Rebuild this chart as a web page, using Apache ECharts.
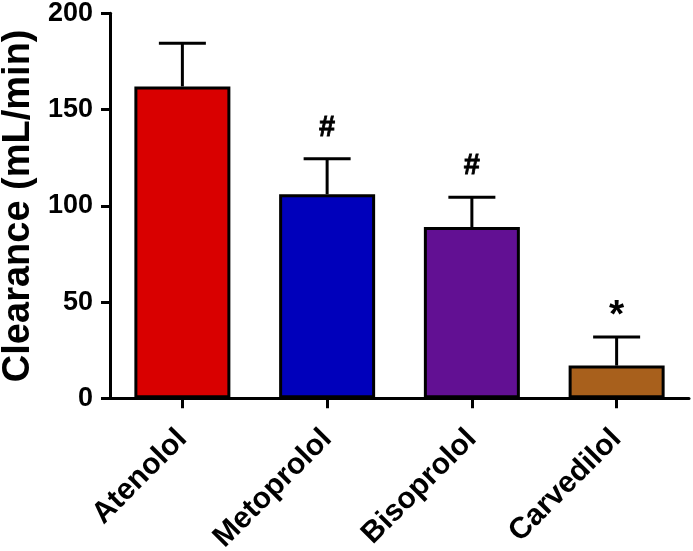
<!DOCTYPE html>
<html><head><meta charset="utf-8">
<script src="https://cdn.jsdelivr.net/npm/echarts@6/dist/echarts.min.js"></script>
<style>html,body{margin:0;padding:0;background:#fff}#c{width:693px;height:551px}</style>
</head><body><div id="c"></div>
<script>
const categories = ['Atenolol', 'Metoprolol', 'Bisoprolol', 'Carvedilol'];
const means = [162, 106, 89, 17];
const upperErrors = [184.5, 124.5, 104.5, 31.8];
const marks = ['', '#', '#', '*'];
const colors = ['#d90000', '#0000bb', '#621093', '#a8601c'];
const yTicks = [0, 50, 100, 150, 200];

const FONT = '"Liberation Sans", Arial, sans-serif';
const chart = echarts.init(document.getElementById('c'), null, {renderer: 'canvas'});
chart.setOption({
  animation: false,
  backgroundColor: '#fff',
  grid: {left: 110, right: 4, top: 13.3, bottom: 152.7, containLabel: false, outerBoundsMode: 'none'},
  xAxis: {
    type: 'category', data: categories,
    axisLine: {lineStyle: {color: '#000', width: 3}},
    axisTick: {show: true, length: 10, alignWithLabel: true, lineStyle: {color: '#000', width: 3}},
    axisLabel: {rotate: 45, color: '#000', fontWeight: 'bold', fontSize: 30, fontFamily: FONT, margin: 36, interval: 0}
  },
  yAxis: {
    type: 'value', min: yTicks[0], max: yTicks[yTicks.length - 1], interval: 50,
    name: 'Clearance (mL/min)', nameLocation: 'middle', nameGap: 71, nameRotate: 90,
    nameTextStyle: {color: '#000', fontWeight: 'bold', fontSize: 38, fontFamily: FONT},
    splitLine: {show: false},
    axisLine: {show: true, lineStyle: {color: '#000', width: 3}},
    axisTick: {show: true, length: 9, lineStyle: {color: '#000', width: 3}},
    axisLabel: {color: '#000', fontWeight: 'bold', fontSize: 27, fontFamily: FONT, margin: 17}
  },
  series: [
    {
      type: 'bar', barWidth: 96, z: 2,
      data: means.map((v, i) => ({value: v, itemStyle: {color: colors[i]}})),
      itemStyle: {borderColor: '#000', borderWidth: 3}
    },
    {
      type: 'custom', z: 3,
      data: upperErrors.map((u, i) => [i, means[i], u]),
      renderItem: function (params, api) {
        const x = api.coord([api.value(0), 0])[0];
        const yMean = api.coord([api.value(0), api.value(1)])[1];
        const yUp = api.coord([api.value(0), api.value(2)])[1];
        const half = 23.5;
        const children = [
          {type: 'line', shape: {x1: x, y1: yMean, x2: x, y2: yUp}, style: {stroke: '#000', lineWidth: 3}},
          {type: 'line', shape: {x1: x - half, y1: yUp, x2: x + half, y2: yUp}, style: {stroke: '#000', lineWidth: 3}}
        ];
        const mk = marks[params.dataIndex];
        if (mk === '#') {
          children.push({type: 'text', style: {text: mk, x: x, y: yUp - 31, align: 'center', verticalAlign: 'middle',
            fill: '#000', font: 'bold 29px ' + FONT, stroke: '#000', lineWidth: 0.8}});
        } else if (mk === '*') {
          children.push({type: 'text', style: {text: mk, x: x, y: yUp - 1, align: 'center', verticalAlign: 'bottom',
            fill: '#000', font: 'bold 39px ' + FONT}});
        }
        return {type: 'group', children: children};
      }
    }
  ]
});
</script></body></html>
